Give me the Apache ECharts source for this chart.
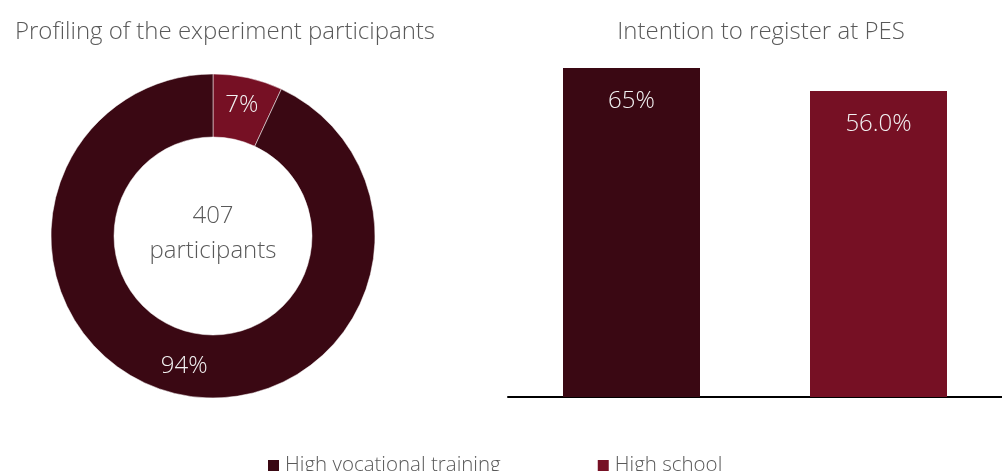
<!DOCTYPE html>
<html>
<head>
<meta charset="utf-8">
<script src="https://cdn.jsdelivr.net/npm/echarts@6/dist/echarts.min.js"></script>
<style>
  html, body { margin: 0; padding: 0; background: #fff; }
  #chart { width: 1002px; height: 471px; }
</style>
</head>
<body>
<div id="chart"></div>
<script>
// Education profile of participants (share, %)
const profileNames = ['High school', 'High vocational training'];
const profileShares = [7, 94];
const participantCount = 407;

// Intention to register at PES, by education (%)
const barCategories = ['High vocational training', 'High school'];
const barValues = [65, 56.0];
const barDecimals = [0, 1];

const legendOrder = ['High vocational training', 'High school'];
const palette = {
  'High vocational training': '#3a0813',
  'High school': '#761024'
};

const FONT = '"Open Sans", "Noto Sans", sans-serif';
const GREY = '#595959';

const chart = echarts.init(document.getElementById('chart'), null, { renderer: 'canvas' });

chart.setOption({
  animation: false,
  backgroundColor: '#ffffff',
  title: [
    {
      text: 'Profiling of the experiment participants',
      left: 220, top: 15, textAlign: 'center',
      textStyle: { fontFamily: FONT, fontWeight: 300, fontSize: 24, color: GREY }
    },
    {
      text: 'Intention to register at PES',
      left: 756, top: 15, textAlign: 'center',
      textStyle: { fontFamily: FONT, fontWeight: 300, fontSize: 24, color: GREY }
    }
  ],
  legend: {
    data: legendOrder,
    left: 261, top: 450,
    icon: 'rect', itemWidth: 13, itemHeight: 13, itemGap: 95,
    textStyle: { fontFamily: FONT, fontWeight: 300, fontSize: 20.5, color: GREY }
  },
  graphic: [{
    type: 'text',
    style: {
      text: participantCount + '\nparticipants',
      x: 213, y: 234,
      align: 'center', verticalAlign: 'middle',
      fontFamily: FONT, fontWeight: 300, fontSize: 24, lineHeight: 35,
      fill: GREY
    }
  }],
  grid: { left: 508, right: 0, top: 68, bottom: 74 },
  xAxis: {
    type: 'category',
    data: barCategories,
    axisLine: { show: true, onZero: false, lineStyle: { color: '#000', width: 2 } },
    axisTick: { show: false },
    axisLabel: { show: false }
  },
  yAxis: {
    type: 'value',
    min: -64, max: 65, startValue: -64,
    show: false,
    splitLine: { show: false }
  },
  series: [
    {
      type: 'pie',
      center: [213, 236],
      radius: [99, 162],
      startAngle: 90,
      clockwise: true,
      itemStyle: { borderColor: '#ffffff', borderWidth: 0.5 },
      label: {
        position: 'inside',
        formatter: p => p.value + '%',
        fontFamily: FONT, fontWeight: 300, fontSize: 24, color: '#f2f2f2'
      },
      labelLine: { show: false },
      emphasis: { disabled: true },
      data: profileNames.map((n, i) => ({
        name: n, value: profileShares[i], itemStyle: { color: palette[n] }
      }))
    },
    {
      type: 'bar',
      barWidth: 137,
      label: {
        show: true,
        position: 'insideTop',
        distance: 21,
        formatter: p => barValues[p.dataIndex].toFixed(barDecimals[p.dataIndex]) + '%',
        fontFamily: FONT, fontWeight: 300, fontSize: 24, color: '#f2f2f2'
      },
      emphasis: { disabled: true },
      data: barCategories.map((c, i) => ({
        value: barValues[i], itemStyle: { color: palette[c] }
      }))
    }
  ]
});
</script>
</body>
</html>
